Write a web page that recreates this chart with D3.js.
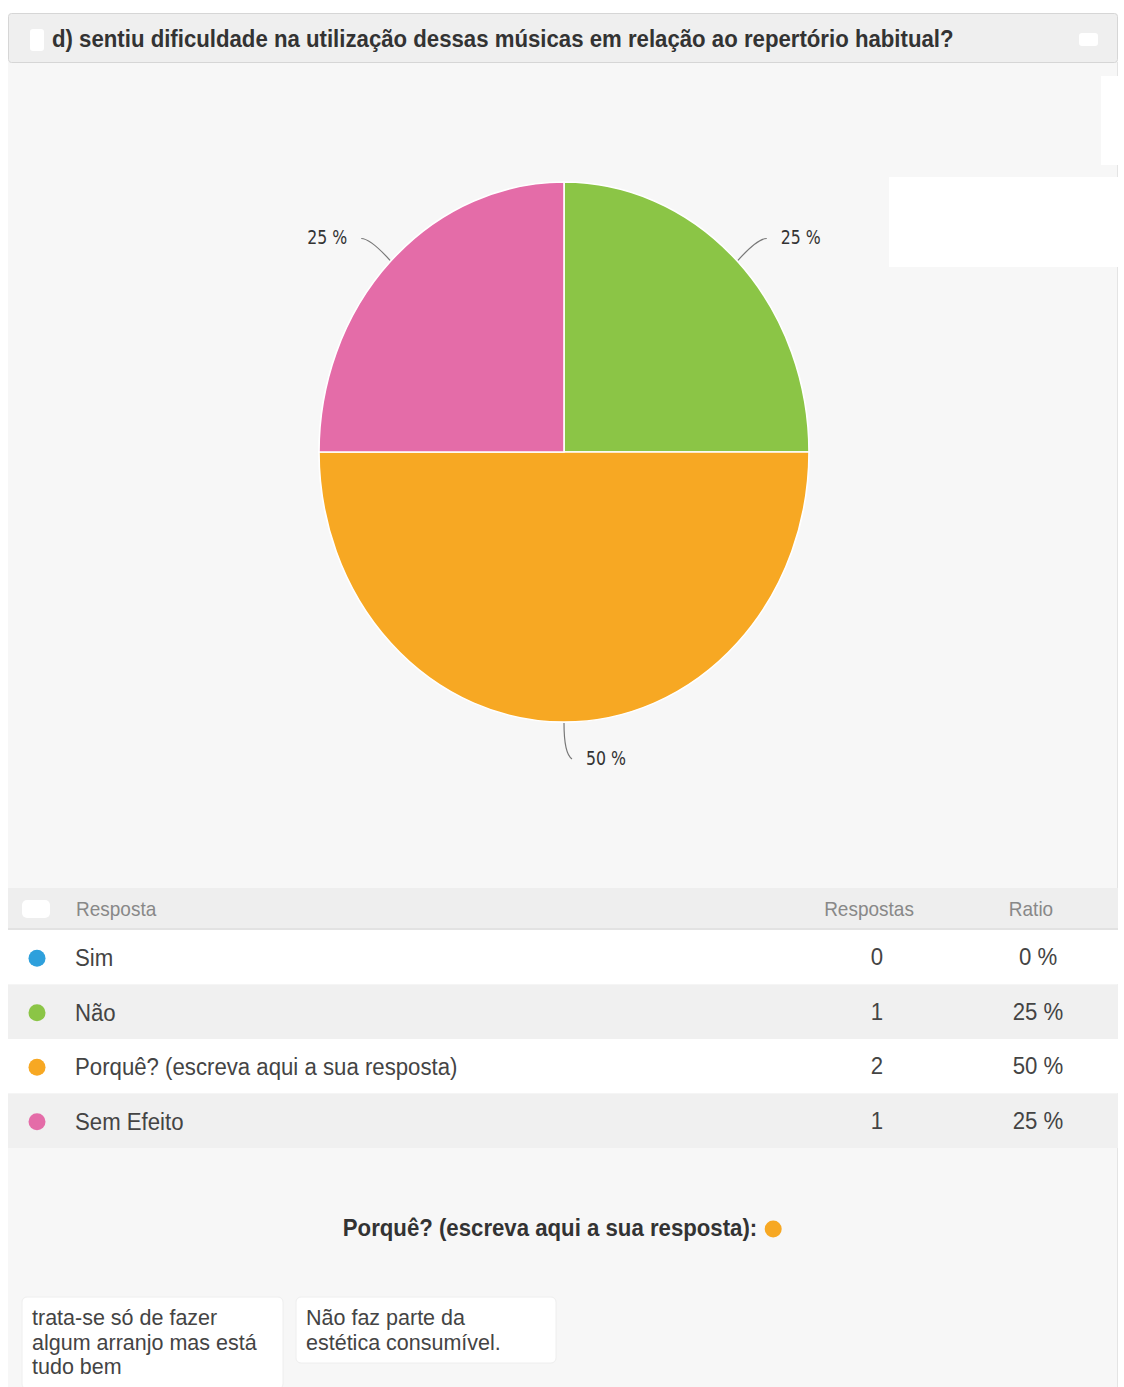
<!DOCTYPE html>
<html>
<head>
<meta charset="utf-8">
<script src="https://cdn.jsdelivr.net/npm/d3@7"></script>
<style>
  html, body { margin: 0; padding: 0; background: #ffffff; }
  svg { display: block; }
</style>
</head>
<body>
<svg id="chart" width="1124" height="1387"></svg>
<script>
// Survey question and its answer options
const questionTitle = "d) sentiu dificuldade na utilização dessas músicas em relação ao repertório habitual?";
const categories = ["Sim", "Não", "Porquê? (escreva aqui a sua resposta)", "Sem Efeito"];
const counts = [0, 1, 2, 1];
const ratios = ["0 %", "25 %", "50 %", "25 %"];
const colors = ["#2ea0dc", "#8bc546", "#f7a823", "#e46ca8"];
const tableHeaders = ["Resposta", "Respostas", "Ratio"];
const openQuestion = "Porquê? (escreva aqui a sua resposta):";
const openAnswers = [
  ["trata-se só de fazer", "algum arranjo mas está", "tudo bem"],
  ["Não faz parte da", "estética consumível."]
];

const svg = d3.select("#chart");
const W = 1124, H = 1387;
const FONT = "'Liberation Sans', Arial, sans-serif";
const SY = 1.1; // the page is drawn slightly taller than wide

// Text placed at (x, y) baseline, stretched vertically like the rest of the page
function label(parent, x, y, str, opts = {}) {
  const sy = opts.sy || SY;
  return parent.append("text")
    .attr("transform", `translate(${x},${y}) scale(1,${sy})`)
    .attr("text-anchor", opts.anchor || "start")
    .attr("font-family", opts.family || FONT)
    .attr("font-weight", opts.weight || "normal")
    .attr("font-size", opts.size || 22)
    .attr("fill", opts.fill || "#444")
    .text(str);
}

// Panel background
svg.append("rect").attr("x", 8).attr("y", 62).attr("width", 1110).attr("height", H - 62)
  .attr("fill", "#f7f7f7");
svg.append("line").attr("x1", 1117.5).attr("x2", 1117.5).attr("y1", 62).attr("y2", H)
  .attr("stroke", "#e4e4e4");

// Title bar
svg.append("rect").attr("x", 8.5).attr("y", 13.5).attr("width", 1109).attr("height", 49)
  .attr("rx", 3).attr("fill", "#efefef").attr("stroke", "#d6d6d6");
svg.append("rect").attr("x", 30).attr("y", 29).attr("width", 14).attr("height", 22)
  .attr("rx", 3).attr("fill", "#ffffff");
svg.append("rect").attr("x", 1079).attr("y", 33).attr("width", 19).attr("height", 13)
  .attr("rx", 3).attr("fill", "#ffffff");
label(svg, 52, 47, questionTitle, { weight: "bold", size: 22.2, fill: "#333" });

// White blocks on the right of the chart area
svg.append("rect").attr("x", 1101).attr("y", 76).attr("width", 17).attr("height", 89).attr("fill", "#fff");
svg.append("rect").attr("x", 889).attr("y", 177).attr("width", 229).attr("height", 90).attr("fill", "#fff");

// Pie chart
const cx = 564, cy = 452, R = 245, sy = 270 / 245;
const data = categories.map((c, i) => ({ name: c, value: counts[i], color: colors[i], ratio: ratios[i] }));
const pie = d3.pie().value(d => d.value).sort(null);
const arcs = pie(data);
const arc = d3.arc().innerRadius(0).outerRadius(R);

const pieG = svg.append("g").attr("transform", `translate(${cx},${cy}) scale(1,${sy})`);
pieG.selectAll("path.slice").data(arcs.filter(d => d.value > 0)).join("path")
  .attr("class", "slice")
  .attr("d", arc)
  .attr("fill", d => d.data.color)
  .attr("stroke", "#ffffff")
  .attr("stroke-width", 1.6)
  .attr("vector-effect", "non-scaling-stroke");

// Data labels with soft connectors
const pt = (a, r) => [cx + r * Math.sin(a), cy - r * Math.cos(a) * sy];
arcs.filter(d => d.value > 0).forEach(d => {
  const a = (d.startAngle + d.endAngle) / 2;
  const p0 = pt(a, R + 1);
  const p1 = pt(a, R + 29);
  const right = Math.sin(a) >= -1e-6;
  const dir = right ? 1 : -1;
  let p2 = [p1[0] + dir * 9, p1[1]];
  if (Math.abs(Math.sin(a)) < 1e-6) { // bottom slice: drop straight then turn right
    p2 = [p1[0] + 8, p1[1] + 5];
  }
  svg.append("path")
    .attr("d", `M${p0[0]},${p0[1]} Q${p1[0]},${p1[1]} ${p2[0]},${p2[1]}`)
    .attr("fill", "none").attr("stroke", "#777").attr("stroke-width", 1.2);
  label(svg, p2[0] + dir * 14, p2[1] + 6, d.data.ratio, {
    anchor: right ? "start" : "end",
    family: "'DejaVu Sans Condensed', 'DejaVu Sans', sans-serif",
    size: 17.5, fill: "#333"
  });
});

// Results table
const colResp = 877, colRatio = 1038;
const headerY = 888, headerH = 41, rowH = 54.5;
svg.append("rect").attr("x", 8).attr("y", headerY).attr("width", 1110).attr("height", headerH).attr("fill", "#eeeeee");
svg.append("line").attr("x1", 8).attr("x2", 1118).attr("y1", headerY + headerH).attr("y2", headerY + headerH)
  .attr("stroke", "#e2e2e2").attr("stroke-width", 2);
svg.append("rect").attr("x", 22).attr("y", 900).attr("width", 28).attr("height", 18).attr("rx", 5).attr("fill", "#fff");
label(svg, 76, 916, tableHeaders[0], { size: 19, fill: "#888" });
label(svg, 869, 916, tableHeaders[1], { size: 19, fill: "#888", anchor: "middle" });
label(svg, 1031, 916, tableHeaders[2], { size: 19, fill: "#888", anchor: "middle" });

const rows = svg.append("g").selectAll("g").data(data).join("g")
  .attr("transform", (d, i) => `translate(0,${headerY + headerH + 1 + i * rowH})`);
rows.append("rect").attr("x", 8).attr("width", 1110).attr("height", rowH)
  .attr("fill", (d, i) => i % 2 ? "#f0f0f0" : "#ffffff");
rows.append("circle").attr("cx", 37).attr("cy", rowH / 2 + 1).attr("r", 8.5).attr("fill", d => d.color);
rows.each(function (d) {
  const g = d3.select(this);
  label(g, 75, rowH / 2 + 9, d.name, { size: 22.2 });
  label(g, colResp, rowH / 2 + 8, d.value, { size: 22.2, anchor: "middle" });
  label(g, colRatio, rowH / 2 + 8, d.ratio, { size: 22.2, anchor: "middle" });
});

// Open answers section
const oq = label(svg, 550, 1236, openQuestion, { weight: "bold", size: 22.2, fill: "#333", anchor: "middle" });
const oqW = oq.node().getComputedTextLength();
svg.append("circle").attr("cx", 550 + oqW / 2 + 16).attr("cy", 1229).attr("r", 8.5)
  .attr("fill", colors[2]);

const boxes = [{ x: 22, w: 261, h: 92 }, { x: 296, w: 260, h: 66 }];
openAnswers.forEach((lines, i) => {
  const b = boxes[i];
  svg.append("rect").attr("x", b.x).attr("y", 1297).attr("width", b.w).attr("height", b.h)
    .attr("rx", 5).attr("fill", "#ffffff").attr("stroke", "#eeeeee");
  lines.forEach((ln, j) => {
    label(svg, b.x + 10, 1325 + j * 24.5, ln, { size: 21.5, sy: 1.0 });
  });
});
</script>
</body>
</html>
